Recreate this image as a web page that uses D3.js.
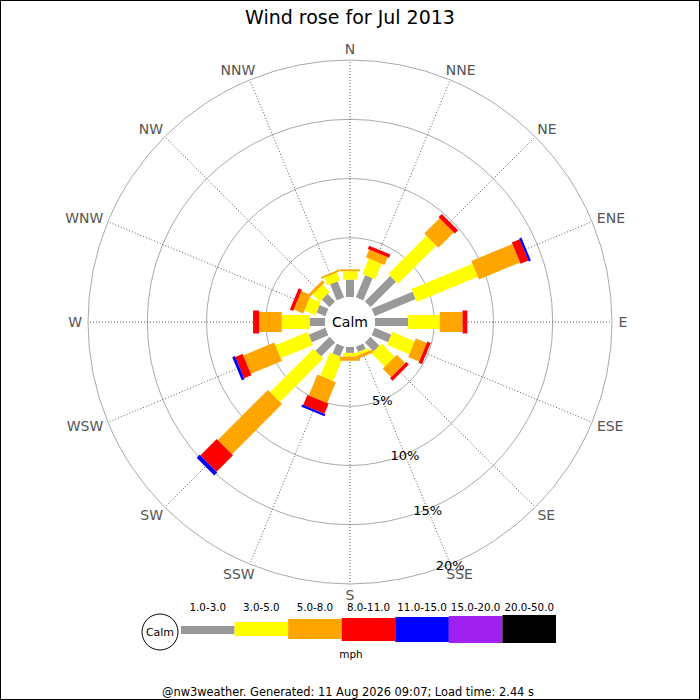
<!DOCTYPE html>
<html>
<head>
<meta charset="utf-8">
<script src="https://cdn.jsdelivr.net/npm/d3@7"></script>
<style>
  body { margin: 0; background: #fff; }
  svg { display: block; font-family: "DejaVu Sans", sans-serif; }
</style>
</head>
<body>
<div id="svg_container"></div>
<script>
const w = 700;
const h = 700;
const cx = 350;
const cy = 322;
const calmR = 25;
const outerR = 262;

const directions = ['N','NNE','NE','ENE','E','ESE','SE','SSE','S','SSW','SW','WSW','W','WNW','NW','NNW'];
const speedBands = ['1.0-3.0','3.0-5.0','5.0-8.0','8.0-11.0','11.0-15.0','15.0-20.0','20.0-50.0'];
const bandColors = ['#999999','#ffff00','#ffa500','#ff0000','#0000ff','#a020f0','#000000'];
const bandWidths = [8, 14, 20, 23, 25, 27, 29];
const ringTicks = [5, 10, 15, 20];

// percentage of the month per direction, one array per speed band
const band1 = [1.47, 2.03, 3.04, 3.75, 2.79, 1.52, 1.06, 0.50, 0.50, 0.91, 1.67, 1.52, 1.27, 0.81, 0.91, 1.47];
const band2 = [0.71, 1.42, 4.56, 5.57, 2.68, 2.03, 1.57, 0.26, 0.31, 2.13, 5.17, 2.94, 2.38, 1.01, 0.86, 0.71];
const band3 = [0.15, 0.71, 1.82, 3.75, 1.92, 1.01, 1.01, 0.25, 0.35, 1.92, 5.98, 2.84, 1.92, 0.86, 0.25, 0.15];
const band4 = [0, 0.30, 0.40, 0.71, 0.40, 0.30, 0.30, 0, 0, 0.91, 1.97, 0.66, 0.50, 0.30, 0, 0];
const band5 = [0, 0, 0, 0.20, 0, 0, 0, 0, 0, 0.20, 0.35, 0.25, 0, 0, 0, 0];
const band6 = [0, 0, 0, 0, 0, 0, 0, 0, 0, 0, 0, 0, 0, 0, 0, 0];
const band7 = [0, 0, 0, 0, 0, 0, 0, 0, 0, 0, 0, 0, 0, 0, 0, 0];
const bands = [band1, band2, band3, band4, band5, band6, band7];

const titleText = 'Wind rose for Jul 2013';
const footerText = '@nw3weather. Generated: 11 Aug 2026 09:07; Load time: 2.44 s';

const svg = d3.select('#svg_container')
  .append('svg')
  .attr('width', w)
  .attr('height', h);

svg.append('rect')
  .attr('x', 0.5).attr('y', 0.5)
  .attr('width', w - 1).attr('height', h - 1)
  .attr('fill', '#fff')
  .attr('stroke', '#000');

svg.append('text')
  .attr('x', w / 2).attr('y', 24)
  .attr('text-anchor', 'middle')
  .attr('font-size', 19)
  .text(titleText);

const rScale = d3.scaleLinear().domain([0, 20]).range([calmR, outerR]);
const angle = d3.scaleBand().domain(directions).range([0, 360]).align(0).paddingInner(0).paddingOuter(0);
const rad = d => angle(d) * Math.PI / 180;

const rose = svg.append('g').attr('transform', `translate(${cx}, ${cy})`);

// rings
rose.selectAll('circle.ring')
  .data(ringTicks)
  .enter()
  .append('circle')
  .attr('class', 'ring')
  .attr('r', d => rScale(d))
  .attr('fill', 'none')
  .attr('stroke', '#aaa')
  .attr('stroke-width', 1);

// spokes
rose.selectAll('line.spoke')
  .data(directions)
  .enter()
  .append('line')
  .attr('class', 'spoke')
  .attr('x1', d => calmR * Math.sin(rad(d)))
  .attr('y1', d => -calmR * Math.cos(rad(d)))
  .attr('x2', d => rScale(20) * Math.sin(rad(d)))
  .attr('y2', d => -rScale(20) * Math.cos(rad(d)))
  .attr('stroke', '#333')
  .attr('stroke-width', 0.8)
  .attr('stroke-dasharray', '1,2');

// direction labels
rose.selectAll('text.dir')
  .data(directions)
  .enter()
  .append('text')
  .attr('class', 'dir')
  .attr('text-anchor', 'middle')
  .attr('dominant-baseline', 'central')
  .attr('font-size', 14)
  .attr('fill', '#555')
  .text(d => d)
  .each(function(d) {
    const a = rad(d);
    const tw = this.getComputedTextLength();
    const s = Math.sin(a);
    const off = Math.abs(s) < 1e-6 ? 0 : Math.sign(s) * Math.max(0, tw / 2 - 5) * Math.sqrt(Math.abs(s));
    d3.select(this)
      .attr('x', 273 * s + off)
      .attr('y', -273 * Math.cos(a));
  });

// stacked bars
const stacked = directions.map((d, i) => {
  let base = 0;
  return bands.map((b, j) => {
    const seg = { dir: d, band: j, r0: base, r1: base + b[i] };
    base += b[i];
    return seg;
  }).filter(s => s.r1 > s.r0);
});

bands.forEach((b, j) => {
  rose.append('g')
    .selectAll('rect')
    .data(stacked.map(s => s.find(x => x.band === j)).filter(Boolean))
    .enter()
    .append('rect')
    .attr('transform', d => `rotate(${angle(d.dir)})`)
    .attr('x', -bandWidths[j] / 2)
    .attr('y', d => -rScale(d.r1))
    .attr('width', bandWidths[j])
    .attr('height', d => rScale(d.r1) - rScale(d.r0))
    .attr('fill', bandColors[j]);
});

// calm circle
rose.append('circle')
  .attr('r', calmR)
  .attr('fill', '#fff');
rose.append('text')
  .attr('text-anchor', 'middle')
  .attr('dominant-baseline', 'central')
  .attr('font-size', 14)
  .text('Calm');

// percent labels along SSE
const labA = rad('SSE');
rose.selectAll('text.pct')
  .data(ringTicks)
  .enter()
  .append('text')
  .attr('class', 'pct')
  .attr('x', d => rScale(d) * Math.sin(labA))
  .attr('y', d => -rScale(d) * Math.cos(labA) + 1)
  .attr('text-anchor', 'middle')
  .attr('dominant-baseline', 'central')
  .attr('font-size', 13)
  .attr('fill', '#000')
  .text(d => d + '%');

// legend
const legX = d3.scaleBand().domain(speedBands).range([181, 556]);
const legY = 630;
const legend = svg.append('g');

legend.append('circle')
  .attr('cx', 160).attr('cy', legY + 2)
  .attr('r', 18)
  .attr('fill', '#fff')
  .attr('stroke', '#000');
legend.append('text')
  .attr('x', 160).attr('y', legY + 2)
  .attr('text-anchor', 'middle')
  .attr('dominant-baseline', 'central')
  .attr('font-size', 11)
  .text('Calm');

legend.selectAll('rect')
  .data(speedBands)
  .enter()
  .append('rect')
  .attr('x', d => legX(d))
  .attr('y', (d, i) => legY - [4, 8, 11, 12, 13, 14, 15][i])
  .attr('width', legX.bandwidth())
  .attr('height', (d, i) => [8, 14, 20, 23, 25, 27, 28][i])
  .attr('fill', (d, i) => bandColors[i]);

legend.selectAll('text.band')
  .data(speedBands)
  .enter()
  .append('text')
  .attr('class', 'band')
  .attr('x', d => legX(d) + legX.bandwidth() / 2)
  .attr('y', 611)
  .attr('text-anchor', 'middle')
  .attr('font-size', 10.3)
  .text(d => d);

legend.append('text')
  .attr('x', 351).attr('y', 658)
  .attr('text-anchor', 'middle')
  .attr('font-size', 10.5)
  .text('mph');

svg.append('text')
  .attr('x', 348).attr('y', 696)
  .attr('text-anchor', 'middle')
  .attr('font-size', 11.4)
  .text(footerText);
</script>
</body>
</html>
